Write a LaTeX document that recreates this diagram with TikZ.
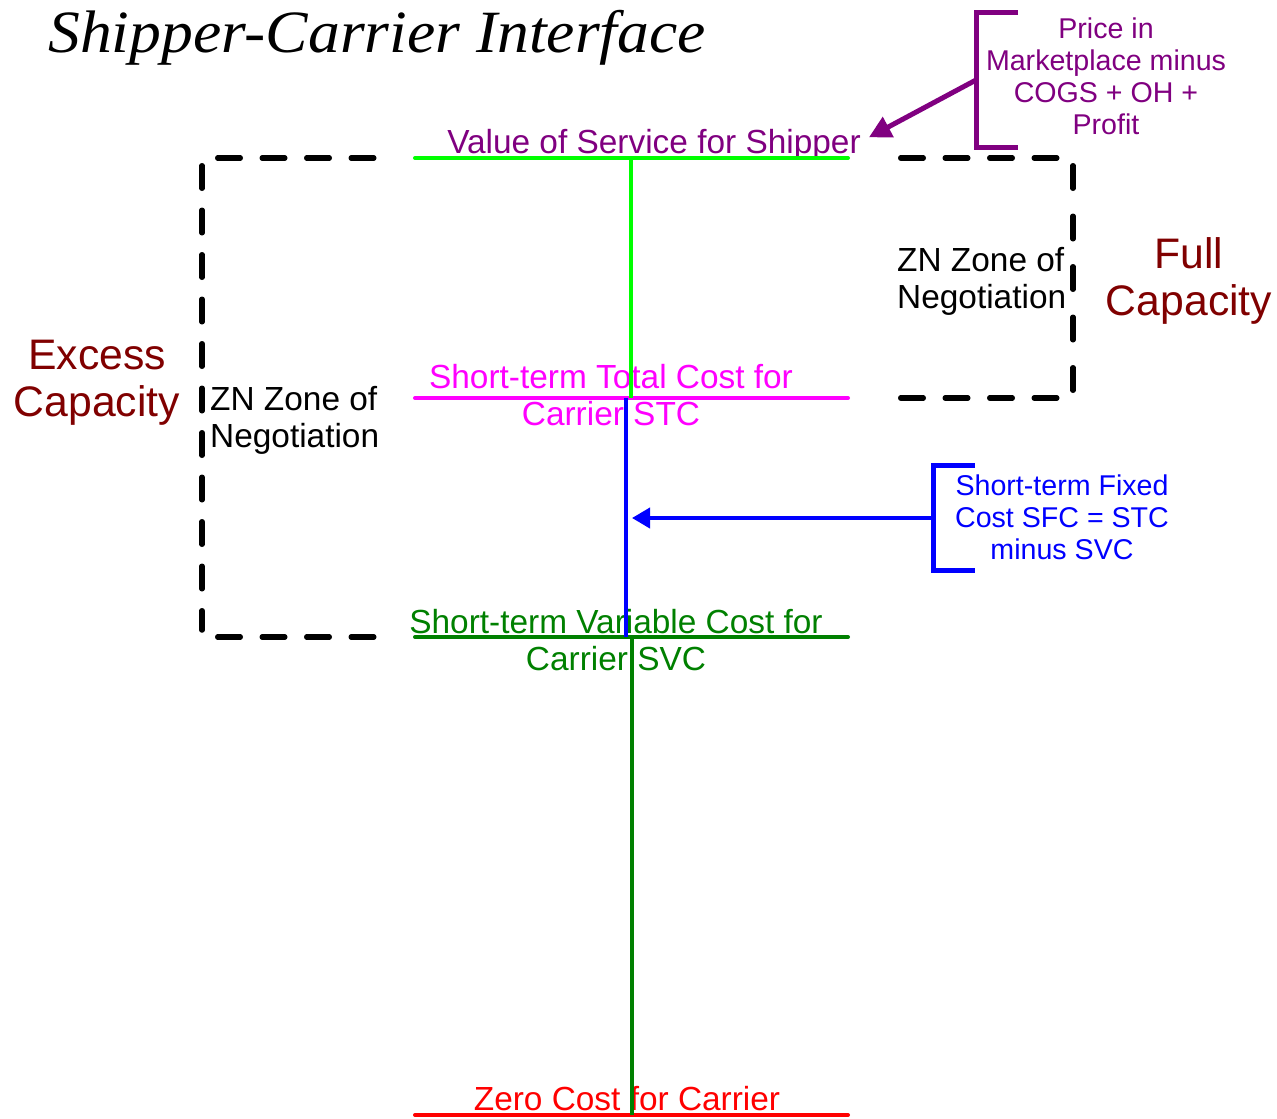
\documentclass[tikz,border=0pt]{standalone}
\usepackage{fontspec}
\setmainfont{Liberation Sans}
\newfontfamily\titlefont{Liberation Serif}
\usetikzlibrary{arrows.meta,calc}

\definecolor{vlime}{RGB}{0,255,0}
\definecolor{vmagenta}{RGB}{255,0,255}
\definecolor{vblue}{RGB}{0,0,255}
\definecolor{vgreen}{RGB}{0,128,0}
\definecolor{vred}{RGB}{255,0,0}
\definecolor{vpurple}{RGB}{128,0,128}
\definecolor{capred}{RGB}{128,0,0}

\begin{document}
\begin{tikzpicture}[x=1pt,y=-1pt,
    level/.style={line width=4pt, line cap=round},
    zone/.style={line width=5.5pt, dash pattern=on 22.5pt off 22pt, line cap=round},
    brack/.style={line width=5pt},
    lbl/.style={font=\fontsize{33.4}{37}\selectfont, inner sep=0pt, anchor=base, align=center},
    note/.style={font=\fontsize{28.6}{32}\selectfont, inner sep=0pt, anchor=base, align=center},
    capy/.style={font=\fontsize{42.7}{47}\selectfont, text=capred, inner sep=0pt, anchor=base, align=center}]
    \useasboundingbox (0,0) rectangle (1277,1119);
    % title
    \node[anchor=base west, inner sep=0pt, font=\titlefont\itshape\fontsize{60}{60}\selectfont, xscale=1.06] (title) at (48,52) {Shipper-Carrier Interface};
    % labels of the levels (base = last line)
    \node[lbl, text=vpurple] (vosLabel) at (654,153) {Value of Service for Shipper};
    \node[lbl, text=vmagenta] (stcLabel) at (611,425) {Short-term Total Cost for\\Carrier STC};
    \node[lbl, text=vgreen] (svcLabel) at (616,670) {Short-term Variable Cost for\\Carrier SVC};
    \node[lbl, text=vred] (zeroLabel) at (627,1110) {Zero Cost for Carrier};
    % zones
    \node[lbl, align=left, anchor=base west] (znLeft) at (210,447) {ZN Zone of\\Negotiation};
    \node[lbl, align=left, anchor=base west] (znRight) at (897,308) {ZN Zone of\\Negotiation};
    \node[capy] (excessCap) at (97,416) {Excess\\Capacity};
    \node[capy] (fullCap) at (1189,315) {Full\\Capacity};
    \draw[zone] (217.75,158) -- (374,158) (217.75,637) -- (374,637) (202,165.75) -- (202,630);
    \draw[zone] (900.75,158) -- (1061,158) (900.75,398) -- (1061,398);
    \draw[zone, dash pattern=on 22.5pt off 28pt] (1073,165.75) -- (1073,390.25);
    % notes
    \node[note, text=vpurple] (priceNote) at (1106,134) {Price in\\Marketplace minus\\COGS + OH +\\Profit};
    \node[note, text=vblue] (sfcNote) at (1062,559) {Short-term Fixed\\Cost SFC = STC\\minus SVC};
    \draw[brack, vpurple] (1018,12) -- (976,12) -- (976,147) -- (1018,147);
    \coordinate (priceMid) at (976,80);
    \draw[brack, vblue] (975,465) -- (933,465) -- (933,570) -- (975,570);
    \coordinate (sfcMid) at (933,518);
    % levels
    \coordinate (vosMid) at (631,158);
    \coordinate (stcMid) at (626,398);
    \coordinate (svcMid) at (632,637);
    \coordinate (zeroMid) at (632,1115);
    \draw[level, vlime] (415,158) -- (848,158);
    \draw[level, vmagenta] (415,398) -- (848,398);
    \draw[level, vgreen] (415,637) -- (848,637);
    \draw[level, vred] (415,1115) -- (848,1115);
    \draw[line width=4pt, vlime] (vosMid) -- (vosMid |- stcMid);
    \draw[line width=4pt, vblue] (stcMid) -- (stcMid |- svcMid);
    \draw[line width=4pt, vgreen] (svcMid) -- (zeroMid);
    % arrows
    \draw[line width=5pt, vpurple, -{Triangle[length=22pt,width=22pt]}] (priceMid) -- ([shift={(8,-7)}]vosLabel.east);
    \draw[line width=4pt, vblue, -{Triangle[length=18pt,width=20pt]}] (sfcMid) -- ($(stcMid)!(sfcMid)!(stcMid |- svcMid)$) [shorten >=6pt];
\end{tikzpicture}
\end{document}
